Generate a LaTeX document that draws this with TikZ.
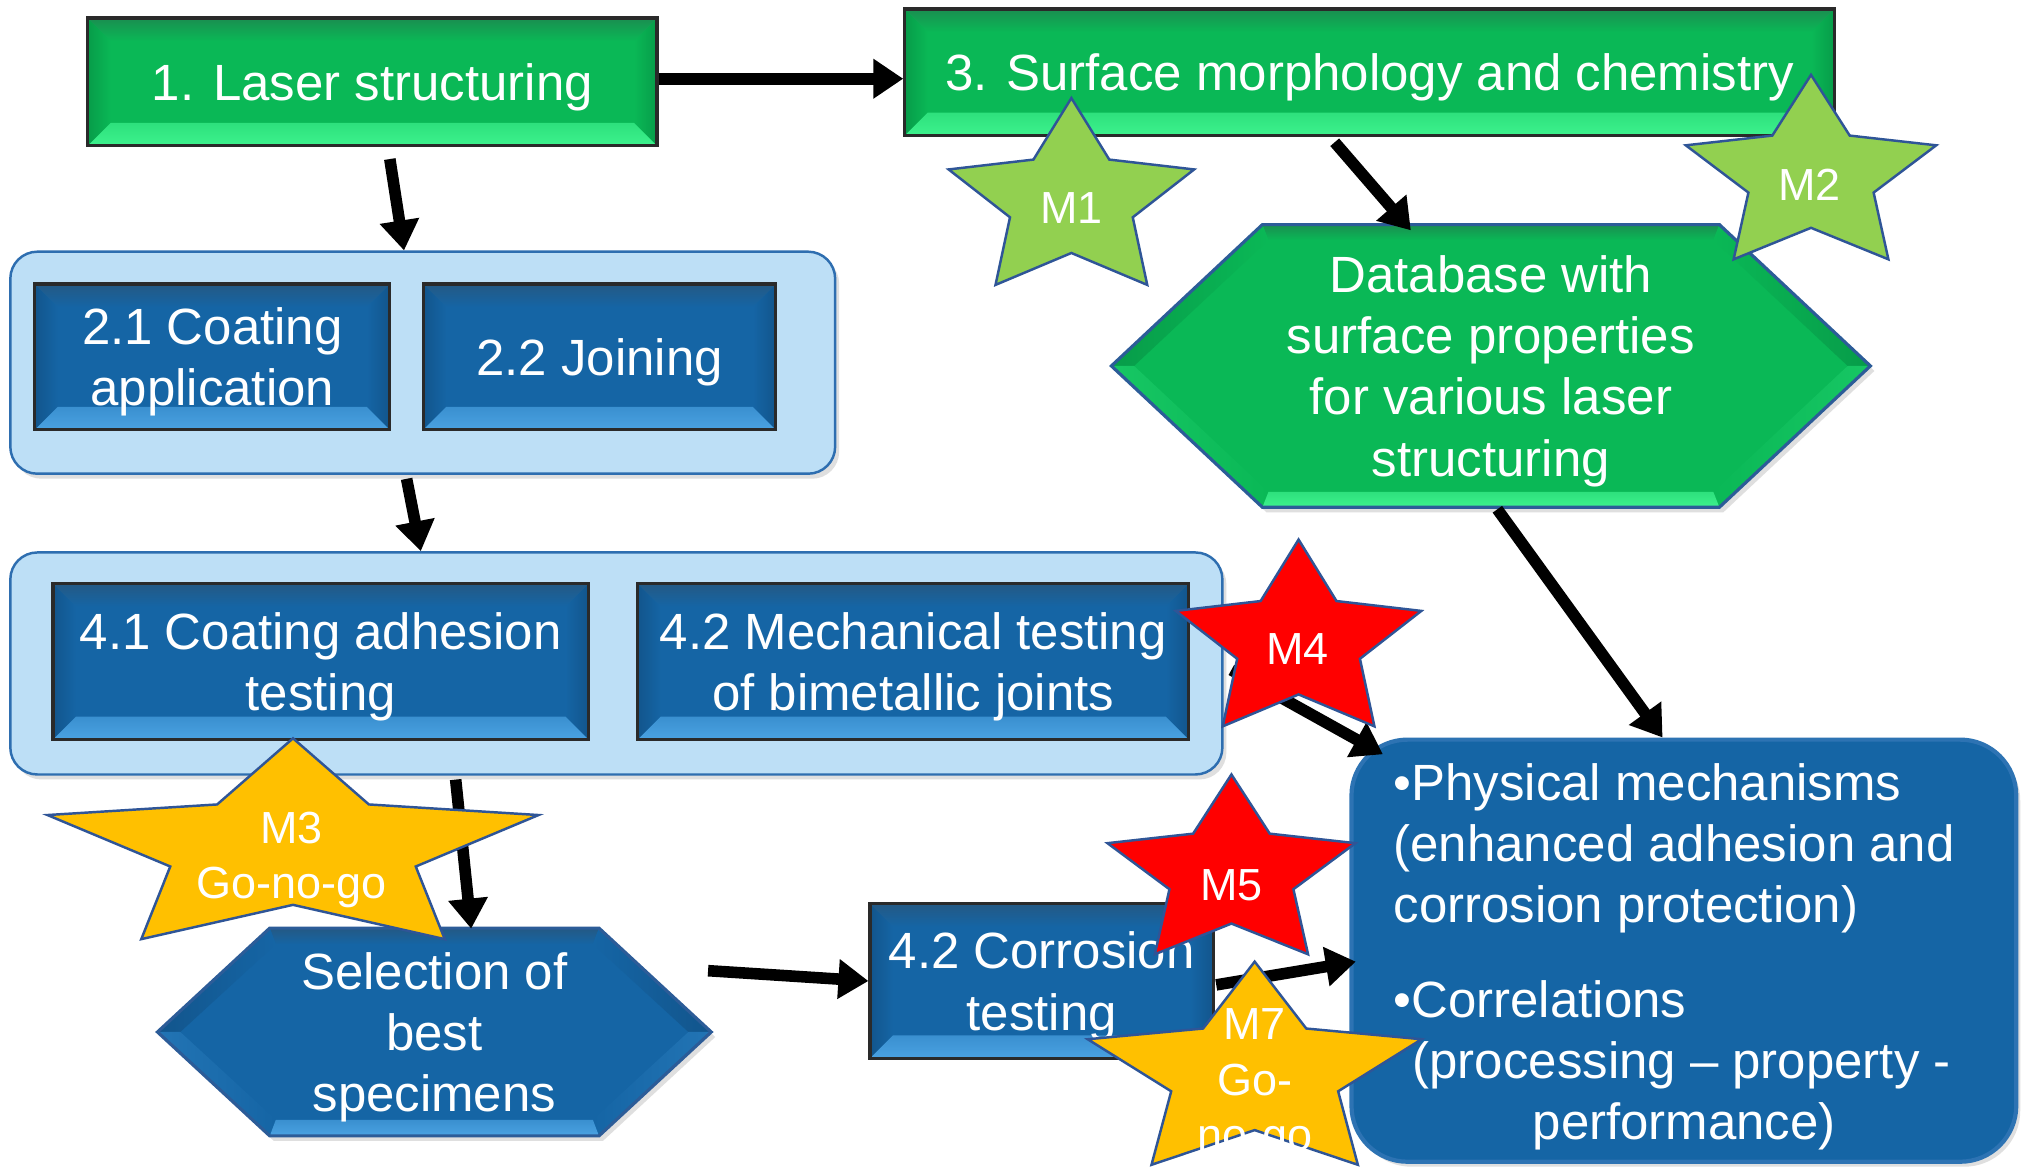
\documentclass[tikz,border=0pt]{standalone}
\usepackage{fontspec}
\setmainfont{Liberation Sans}
\usetikzlibrary{arrows.meta,calc,shadows}

\definecolor{grnMain}{HTML}{0AB856}
\definecolor{grnDark}{HTML}{1A8E50}
\definecolor{grnSide}{HTML}{079C49}
\definecolor{grnLight}{HTML}{3DF28D}
\definecolor{bluMain}{HTML}{1565A5}
\definecolor{bluDark}{HTML}{245984}
\definecolor{bluSide}{HTML}{12558C}
\definecolor{bluLight}{HTML}{4AA2E2}
\definecolor{grpFill}{HTML}{BDDFF6}
\definecolor{grpLine}{HTML}{2E6EB0}
\definecolor{physLine}{HTML}{2D73B3}
\definecolor{starLine}{HTML}{2F5597}
\definecolor{starGreen}{HTML}{92D050}
\definecolor{starGold}{HTML}{FFC000}
\definecolor{starRed}{HTML}{FF0000}
\definecolor{boxLine}{HTML}{2A2A2A}
\definecolor{hexLine}{HTML}{2C5C98}

\newcommand\mainfs{\fontsize{14.5}{17.4}\selectfont}
\newcommand\starfs{\fontsize{12.8}{15.7}\selectfont}
\newcommand\bvw{0.23cm}

\tikzset{
  % place a rectangular node by its top-left and bottom-right corners (picture units)
  corners/.style n args={4}{
    at={({(#1+#3)/2},{(#2+#4)/2})},
    minimum width={(#3-#1)*0.012908cm},
    minimum height={(#4-#2)*0.012908cm}
  },
  % bevelled button look: main, dark top, side, light bottom
  bevel/.style n args={4}{
    fill=#1,
    path picture={
      \path (path picture bounding box.north west) coordinate (bvA)
            (path picture bounding box.south east) coordinate (bvB);
      \path (bvA -| bvB) coordinate (bvC) (bvA |- bvB) coordinate (bvD);
      \shade[left color=#3, right color=#1] (bvA) -- ($(bvA)+(\bvw,-\bvw)$) -- ($(bvD)+(\bvw,\bvw)$) -- (bvD) -- cycle;
      \shade[left color=#1, right color=#3] (bvC) -- ($(bvC)+(-\bvw,-\bvw)$) -- ($(bvB)+(-\bvw,\bvw)$) -- (bvB) -- cycle;
      \shade[top color=#2, bottom color=#1] (bvA) -- (bvC) -- ($(bvC)+(-\bvw,-\bvw)$) -- ($(bvA)+(\bvw,-\bvw)$) -- cycle;
      \shade[top color=#4!70!#1, bottom color=#4] (bvD) -- (bvB) -- ($(bvB)+(-\bvw,\bvw)$) -- ($(bvD)+(\bvw,\bvw)$) -- cycle;
    }
  },
  softshadow/.style={drop shadow={shadow xshift=0.04cm, shadow yshift=-0.05cm, opacity=0.25}},
}

% bevelled hexagon from outer corners (prefix L,TL,TR,R,BR,BL) and inner corners (prefix iL ...)
\newcommand\bevelhex[5]{%
  \fill[#2, softshadow] (#1L) -- (#1TL) -- (#1TR) -- (#1R) -- (#1BR) -- (#1BL) -- cycle;
  \shade[top color=#3, bottom color=#2] (#1TL) -- (#1TR) -- (#1iTR) -- (#1iTL) -- cycle;
  \shade[left color=#4, right color=#2] (#1L) -- (#1TL) -- (#1iTL) -- (#1iL) -- cycle;
  \shade[left color=#2, right color=#4] (#1TR) -- (#1R) -- (#1iR) -- (#1iTR) -- cycle;
  \shade[left color=#2!75!#5, right color=#2] (#1L) -- (#1BL) -- (#1iBL) -- (#1iL) -- cycle;
  \shade[left color=#2, right color=#2!75!#5] (#1R) -- (#1BR) -- (#1iBR) -- (#1iR) -- cycle;
  \shade[top color=#5!70!#2, bottom color=#5] (#1BL) -- (#1BR) -- (#1iBR) -- (#1iBL) -- cycle;
  \draw[hexLine, line width=0.9pt] (#1L) -- (#1TL) -- (#1TR) -- (#1R) -- (#1BR) -- (#1BL) -- cycle;
}

% five-pointed milestone star: centre x, centre y, x radius, y radius, colour
\newcommand\milestar[5]{%
  \filldraw[fill=#5, draw=starLine, line width=0.7pt, shift={(#1,#2)}, xscale=#3, yscale=-#4]
    (90:1) -- (126:0.5) -- (162:1) -- (198:0.5) -- (234:1) -- (270:0.5)
    -- (306:1) -- (342:0.5) -- (18:1) -- (54:0.5) -- cycle;
}

\begin{document}
\begin{tikzpicture}[x=0.012908cm, y=-0.012908cm,
  grpbox/.style={fill=grpFill, draw=grpLine, line width=0.7pt, rounded corners=0.27cm, inner sep=0, softshadow},
  greenbox/.style={bevel={grnMain}{grnDark}{grnSide}{grnLight}, draw=boxLine, line width=0.9pt,
                   inner sep=0, text=white, align=center, font=\mainfs, text depth=0pt},
  bluebox/.style={bevel={bluMain}{bluDark}{bluSide}{bluLight}, draw=boxLine, line width=0.9pt,
                  inner sep=0, text=white, align=center, font=\mainfs, text depth=0pt},
  physbox/.style={fill=bluMain, draw=physLine, line width=1.2pt, rounded corners=0.56cm, inner sep=0, softshadow},
  whitetext/.style={inner sep=0, text=white, align=center, font=\mainfs, text depth=0pt},
  startext/.style={inner sep=0, text=white, align=center, font=\starfs},
  flow/.style={line width=3.3pt, -{Triangle[length=0.30cm,width=0.38cm]}},
]
\fill[white] (0,0) rectangle (1568,904);
\useasboundingbox (0,0) rectangle (1568,904);

% grouping panels
\node[grpbox, corners={8}{195}{647}{367}] (grp2) {};
\node[grpbox, corners={8}{428}{947}{600}] (grp4) {};

% process boxes
\node[greenbox, corners={68}{14}{509}{113}] (box1) {1. Laser structuring};
\node[greenbox, corners={701}{7}{1421}{105}] (box3) {3. Surface morphology and chemistry};
\node[bluebox, corners={27}{220}{302}{333}] (b21) {2.1 Coating\\application};
\node[bluebox, corners={328}{220}{601}{333}] (b22) {2.2 Joining};
\node[bluebox, corners={41}{452}{456}{573}] (b41) {4.1 Coating adhesion\\testing};
\node[bluebox, corners={494}{452}{921}{573}] (b42) {4.2 Mechanical testing\\of bimetallic joints};
\node[bluebox, corners={674}{700}{940}{820}] (corr) {4.2 Corrosion\\testing};

% database hexagon
\coordinate (dbL) at (861,283.5);   \coordinate (dbTL) at (978,174);
\coordinate (dbTR) at (1332,174);   \coordinate (dbR) at (1449,283.5);
\coordinate (dbBR) at (1332,393);   \coordinate (dbBL) at (978,393);
\coordinate (dbiL) at (878.6,283.5); \coordinate (dbiTL) at (982.7,186);
\coordinate (dbiTR) at (1327.3,186); \coordinate (dbiR) at (1431.4,283.5);
\coordinate (dbiBR) at (1327.3,381); \coordinate (dbiBL) at (982.7,381);
\bevelhex{db}{grnMain}{grnDark}{grnSide}{grnLight}
\node[whitetext, corners={861}{174}{1449}{393}] (db)
  {Database with\\surface properties\\for various laser\\structuring};

% selection hexagon
\coordinate (selL) at (122,799.5);   \coordinate (selTL) at (209,719);
\coordinate (selTR) at (464,719);    \coordinate (selR) at (551,799.5);
\coordinate (selBR) at (464,880);    \coordinate (selBL) at (209,880);
\coordinate (seliL) at (139.7,799.5); \coordinate (seliTL) at (213.7,731.5);
\coordinate (seliTR) at (459.3,731.5); \coordinate (seliR) at (533.3,799.5);
\coordinate (seliBR) at (459.3,867.5); \coordinate (seliBL) at (213.7,867.5);
\bevelhex{sel}{bluMain}{bluDark}{bluSide}{bluLight}
\node[whitetext, corners={122}{719}{551}{880}] (sel) {Selection of\\best\\specimens};

% results panel
\node[physbox, corners={1047}{573}{1562}{900}] (phys) {};
\node[whitetext, align=left] (physTxt) at (1297,737)
  {•Physical mechanisms\\(enhanced adhesion and\\corrosion protection)\\[9.5pt]%
   •Correlations\\\hspace*{0.19cm}(processing – property -\\\hspace*{1.39cm}performance)};

% flow arrows
\draw[flow] ($(box1.east)+(0,-2.5)$) -- ($(box3.west)+(0,5)$);
\draw[flow] ($(box1.south)+(13.5,9)$) -- ($(grp2.north)+(-14.5,0)$);
\draw[flow] ($(grp2.south)+(-12.5,3)$) -- ($(grp4.north)+(-151.5,0)$);
\draw[flow] ($(grp4.south)+(-124.5,3)$) -- ($(sel.north)+(28.5,1)$);
\draw[flow] ($(sel.east)+(-3,-47.5)$) -- (corr.west);
\draw[flow] ($(corr.east)+(1,3)$) -- ($(phys.west)+(5,8.5)$);
\draw[flow] ($(grp4.east)+(6,5)$) -- ($(phys.north west)+(26,13)$);
\draw[flow] ($(db.south)+(5,1)$) -- ($(phys.north)+(-16.5,0)$);
\draw[flow] ($(box3.south)+(-27,4)$) -- ($(db.north)+(-62,5)$);

% milestones
\milestar{830}{156}{100}{80}{starGreen}
\node[startext] (m1) at (830,161) {M1};
\milestar{1403}{137}{102}{79}{starGreen}
\node[startext] (m2) at (1402,143) {M2};
\milestar{227}{658}{200}{86}{starGold}
\node[startext] (m3) at (226,666) {M3\\Go-no-go};
\milestar{1006}{498}{100}{80}{starRed}
\node[startext] (m4) at (1005,503) {M4};
\milestar{954}{677}{101}{77}{starRed}
\node[startext] (m5) at (954,686) {M5};
\milestar{972}{832}{136}{87}{starGold}
\node[startext] (m7) at (972,840) {M7\\Go-\\no-go};
\end{tikzpicture}
\end{document}
